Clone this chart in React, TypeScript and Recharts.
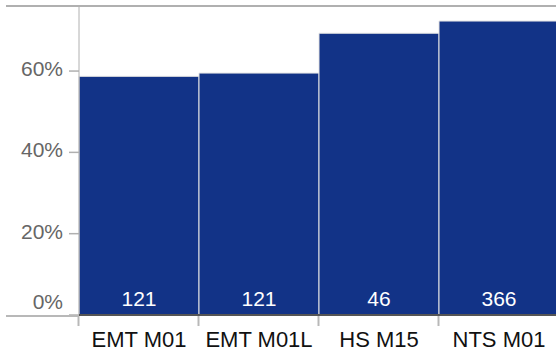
import React from 'react';
import { BarChart, Bar, XAxis, YAxis, LabelList } from 'recharts';

// Werte
const categories = ['EMT M01', 'EMT M01L', 'HS M15', 'NTS M01'];
const shares = [0.587, 0.595, 0.693, 0.723];
const counts = [121, 121, 46, 366];
const yTicks = [0, 0.2, 0.4, 0.6];

const FONT = '"Liberation Sans", Arial, sans-serif';
const BAR_BLUE = '#123387';

const chartData = categories.map((name, i) => ({ name, share: shares[i], count: counts[i] }));

const XTick = (props: any) => {
  const { x, y, payload } = props;
  return (
    <g>
      <line x1={x - 60.5} x2={x - 60.5} y1={y + 1} y2={y + 11} stroke="#b8b8b8" strokeWidth={2} />
      <text x={x} y={y + 32} textAnchor="middle" fontSize={22} fontFamily={FONT} fill="#111">
        {payload.value}
      </text>
    </g>
  );
};

const YTick = (props: any) => {
  const { x, y, payload } = props;
  // 0% sitzt etwas höher als die Grundlinie
  const shift = payload.value === 0 ? -6 : 5;
  return (
    <text x={x} y={y + shift} textAnchor="end" fontSize={21} fontFamily={FONT} fill="#666">
      {`${Math.round(payload.value * 100)}%`}
    </text>
  );
};

const CountLabel = (props: any) => {
  const { x, y, width, height, value } = props;
  return (
    <text
      x={x + width / 2}
      y={y + height - 9}
      textAnchor="middle"
      fontSize={21}
      fontFamily={FONT}
      fill="#ffffff"
    >
      {value}
    </text>
  );
};

export default function App() {
  return (
    <div style={{ position: 'absolute', left: 0, top: 0, width: 556, height: 351, overflow: 'hidden', background: '#fff' }}>
      <BarChart
        width={570}
        height={351}
        data={chartData}
        margin={{ top: 6, right: 11, left: 6, bottom: 0 }}
        barCategoryGap={0}
      >
        <YAxis
          width={73}
          domain={[0, 0.76]}
          ticks={yTicks}
          axisLine={{ stroke: '#b0b0b0', strokeWidth: 1 }}
          tickLine={{ stroke: '#b0b0b0', strokeWidth: 1.5 }}
          tickSize={10}
          tickMargin={6}
          tick={<YTick />}
          interval={0}
        />
        <XAxis
          dataKey="name"
          height={36}
          axisLine={{ stroke: '#555', strokeWidth: 2 }}
          tickLine={false}
          tickSize={0}
          tickMargin={0}
          tick={<XTick />}
          interval={0}
        />
        <Bar dataKey="share" fill={BAR_BLUE} stroke="#e4e4e4" strokeWidth={1} isAnimationActive={false}>
          <LabelList dataKey="count" content={<CountLabel />} />
        </Bar>
      </BarChart>
      <div style={{ position: 'absolute', left: 6, top: 5, width: 550, height: 1.5, background: '#b0b0b0' }} />
      <div style={{ position: 'absolute', left: 6, top: 315, width: 73, height: 1.5, background: '#b8b8b8' }} />
    </div>
  );
}
